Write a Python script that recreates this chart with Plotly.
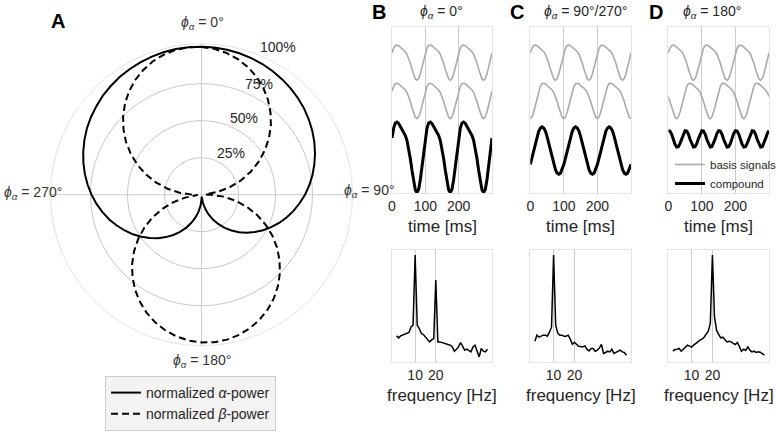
import plotly.graph_objects as go

W, H = 777, 432

# ---------------- Panel A: polar data ----------------
THETA_DEG = [0, 5, 10, 15, 20, 25, 30, 35, 40, 45, 50, 55, 60, 65, 70, 75, 80, 85, 90,
             95, 100, 105, 110, 115, 120, 125, 130, 135, 140, 145, 150, 155, 160, 165, 170, 175, 180,
             185, 190, 195, 200, 205, 210, 215, 220, 225, 230, 235, 240, 245, 250, 255, 260, 265, 270,
             275, 280, 285, 290, 295, 300, 305, 310, 315, 320, 325, 330, 335, 340, 345, 350, 355, 360]
ALPHA_POWER = [1.000, 0.998, 0.994, 0.989, 0.982, 0.974, 0.963, 0.951, 0.937, 0.922, 0.905, 0.885,
               0.864, 0.841, 0.816, 0.789, 0.761, 0.731, 0.699, 0.665, 0.631, 0.595, 0.558, 0.519,
               0.480, 0.440, 0.399, 0.358, 0.316, 0.273, 0.230, 0.187, 0.144, 0.100, 0.057, 0.013,
               0.031, 0.074, 0.118, 0.161, 0.204, 0.247, 0.290, 0.332, 0.374, 0.415, 0.456, 0.496,
               0.535, 0.572, 0.609, 0.645, 0.679, 0.712, 0.743, 0.772, 0.800, 0.826, 0.850, 0.873,
               0.894, 0.912, 0.928, 0.944, 0.956, 0.968, 0.977, 0.985, 0.991, 0.996, 0.999, 1.000, 1.000]
BETA_POWER = [0.998, 0.989, 0.972, 0.948, 0.917, 0.879, 0.834, 0.783, 0.725, 0.663, 0.595, 0.522,
              0.446, 0.367, 0.284, 0.199, 0.113, 0.026, 0.061, 0.148, 0.233, 0.317, 0.399, 0.477,
              0.552, 0.623, 0.688, 0.749, 0.804, 0.853, 0.895, 0.930, 0.959, 0.980, 0.994, 1.000,
              0.998, 0.989, 0.972, 0.948, 0.917, 0.879, 0.834, 0.783, 0.725, 0.663, 0.595, 0.522,
              0.446, 0.367, 0.284, 0.199, 0.113, 0.026, 0.061, 0.148, 0.233, 0.317, 0.399, 0.477,
              0.552, 0.623, 0.688, 0.749, 0.804, 0.853, 0.895, 0.930, 0.959, 0.980, 0.994, 1.000, 0.998]
RADIAL_LABELS = ["25%", "50%", "75%", "100%"]

# ---------------- Panels B-D: time signals ----------------
TIME_MS = [0, 5, 10, 15, 20, 25, 30, 35, 40, 45, 50, 55, 60, 65, 70, 75, 80, 85, 90, 95,
           100, 105, 110, 115, 120, 125, 130, 135, 140, 145, 150, 155, 160, 165, 170, 175, 180, 185, 190, 195,
           200, 205, 210, 215, 220, 225, 230, 235, 240, 245, 250, 255, 260, 265, 270, 275, 280, 285, 290, 295, 300]
BASIS_1 = [0.40, 0.69, 0.84, 0.87, 0.83, 0.74, 0.66, 0.57, 0.47, 0.32, 0.09, -0.22, -0.57, -0.91, -1.15, -1.23, -1.13, -0.84, -0.44, 0.01,
           0.40, 0.69, 0.84, 0.87, 0.83, 0.74, 0.66, 0.57, 0.47, 0.32, 0.09, -0.22, -0.57, -0.91, -1.15, -1.23, -1.13, -0.84, -0.44, 0.01,
           0.40, 0.69, 0.84, 0.87, 0.83, 0.74, 0.66, 0.57, 0.47, 0.32, 0.09, -0.22, -0.57, -0.91, -1.15, -1.23, -1.13, -0.84, -0.44, 0.01,
           0.40]
BASIS_2_B = BASIS_1
COMPOUND_B = [0.80, 1.38, 1.68, 1.74, 1.66, 1.48, 1.32, 1.14, 0.94, 0.64, 0.18, -0.44, -1.14, -1.82, -2.30, -2.46, -2.26, -1.68, -0.88, 0.02,
              0.80, 1.38, 1.68, 1.74, 1.66, 1.48, 1.32, 1.14, 0.94, 0.64, 0.18, -0.44, -1.14, -1.82, -2.30, -2.46, -2.26, -1.68, -0.88, 0.02,
              0.80, 1.38, 1.68, 1.74, 1.66, 1.48, 1.32, 1.14, 0.94, 0.64, 0.18, -0.44, -1.14, -1.82, -2.30, -2.46, -2.26, -1.68, -0.88, 0.02,
              0.80]
BASIS_2_C = [-1.23, -1.13, -0.84, -0.44, 0.01, 0.40, 0.69, 0.84, 0.87, 0.83, 0.74, 0.66, 0.57, 0.47, 0.32, 0.09, -0.22, -0.57, -0.91, -1.15,
             -1.23, -1.13, -0.84, -0.44, 0.01, 0.40, 0.69, 0.84, 0.87, 0.83, 0.74, 0.66, 0.57, 0.47, 0.32, 0.09, -0.22, -0.57, -0.91, -1.15,
             -1.23, -1.13, -0.84, -0.44, 0.01, 0.40, 0.69, 0.84, 0.87, 0.83, 0.74, 0.66, 0.57, 0.47, 0.32, 0.09, -0.22, -0.57, -0.91, -1.15,
             -1.23]
COMPOUND_C = [-0.83, -0.44, 0.00, 0.43, 0.83, 1.14, 1.34, 1.41, 1.34, 1.15, 0.83, 0.44, 0.00, -0.44, -0.83, -1.14, -1.35, -1.41, -1.35, -1.14,
              -0.83, -0.44, 0.00, 0.43, 0.83, 1.14, 1.34, 1.41, 1.34, 1.15, 0.83, 0.44, 0.00, -0.44, -0.83, -1.14, -1.35, -1.41, -1.35, -1.14,
              -0.83, -0.44, 0.00, 0.43, 0.83, 1.14, 1.34, 1.41, 1.34, 1.15, 0.83, 0.44, 0.00, -0.44, -0.83, -1.14, -1.35, -1.41, -1.35, -1.14,
              -0.83]
BASIS_2_D = [0.09, -0.22, -0.57, -0.91, -1.15, -1.23, -1.13, -0.84, -0.44, 0.01, 0.40, 0.69, 0.84, 0.87, 0.83, 0.74, 0.66, 0.57, 0.47, 0.32,
             0.09, -0.22, -0.57, -0.91, -1.15, -1.23, -1.13, -0.84, -0.44, 0.01, 0.40, 0.69, 0.84, 0.87, 0.83, 0.74, 0.66, 0.57, 0.47, 0.32,
             0.09, -0.22, -0.57, -0.91, -1.15, -1.23, -1.13, -0.84, -0.44, 0.01, 0.40, 0.69, 0.84, 0.87, 0.83, 0.74, 0.66, 0.57, 0.47, 0.32,
             0.09]
COMPOUND_D = [0.49, 0.47, 0.27, -0.04, -0.32, -0.49, -0.47, -0.27, 0.03, 0.33,
              0.49, 0.47, 0.27, -0.04, -0.32, -0.49, -0.47, -0.27, 0.03, 0.33,
              0.49, 0.47, 0.27, -0.04, -0.32, -0.49, -0.47, -0.27, 0.03, 0.33,
              0.49, 0.47, 0.27, -0.04, -0.32, -0.49, -0.47, -0.27, 0.03, 0.33,
              0.49, 0.47, 0.27, -0.04, -0.32, -0.49, -0.47, -0.27, 0.03, 0.33,
              0.49, 0.47, 0.27, -0.04, -0.32, -0.49, -0.47, -0.27, 0.03, 0.33,
              0.49]
TIME_TICKS = [0, 100, 200]

# ---------------- Panels B-D: spectra ----------------
FREQ_HZ = [1, 2, 3, 4, 5, 6, 7, 8, 9, 10, 11, 12, 13, 14, 15, 16, 17, 18, 19, 20, 21, 22, 23,
           24, 25, 26, 27, 28, 29, 30, 31, 32, 33, 34, 35, 36, 37, 38, 39, 40, 41, 42, 43, 44, 45]
SPEC_B = [21.3, 19.3, 21.3, 22.0, 22.7, 23.3, 24.7, 30.3, 32.0, 102.0, 32.0, 28.7, 23.7, 22.7, 20.0,
          17.7, 15.3, 17.3, 18.7, 77.0, 15.3, 15.3, 14.7, 14.3, 13.7, 12.7, 12.0, 10.3, 6.0, 8.0,
          10.3, 14.7, 10.3, 7.0, 8.0, 7.0, 5.3, 10.3, 12.0, 6.0, 0.3, 8.7, 6.0, 5.3, 8.0]
SPEC_C = [16.0, 22.0, 20.0, 21.0, 22.0, 22.0, 21.0, 25.0, 30.0, 102.0, 32.0, 24.0, 22.0, 22.0, 21.0,
          21.0, 22.0, 18.0, 13.0, 15.0, 12.7, 11.0, 10.7, 10.3, 11.3, 8.0, 6.3, 8.7, 8.7, 6.0,
          7.0, 9.3, 12.7, 3.7, 4.7, 6.0, 5.3, 8.0, 3.7, 4.7, 6.0, 7.0, 5.3, 4.7, 2.0]
SPEC_D = [6.0, 7.7, 8.0, 8.7, 6.0, 8.0, 10.3, 12.0, 11.0, 10.0, 12.0, 13.3, 15.3, 17.0, 18.0,
          20.0, 22.7, 26.0, 33.7, 102.0, 40.3, 27.0, 22.7, 19.3, 20.0, 17.0, 15.3, 16.0, 15.3, 13.7,
          12.7, 14.7, 10.3, 6.0, 8.0, 6.7, 10.3, 7.0, 5.3, 6.0, 4.7, 5.3, 5.0, 3.7, 2.0]
FREQ_TICKS = [10, 20]

# ---------------- styling / layout constants ----------------
FONT = "Liberation Sans, Arial, Helvetica, sans-serif"
TXT = "#262626"
GRAY = "#aaaaaa"
OFFSET_BASIS_1 = 7.96
OFFSET_BASIS_2 = 5.68
OFFSET_COMPOUND = {"B": 2.50, "C": 2.55, "D": 3.24}
TIME_YRANGE = [0, 9.92]
SPEC_YRANGE = [-5.1, 107.1]
FREQ_RANGE = [-1.2, 47.2]


def px_x(p):
    return p / W


def px_y(p):
    return 1 - p / H


fig = go.Figure()

# Panel A traces
fig.add_trace(go.Scatterpolar(theta=THETA_DEG, r=ALPHA_POWER, mode="lines",
                              line=dict(color="black", width=2),
                              name="normalized <i>α</i>-power", legend="legend"))
fig.add_trace(go.Scatterpolar(theta=THETA_DEG, r=BETA_POWER, mode="lines",
                              line=dict(color="black", width=2, dash="7px,4px"),
                              name="normalized <i>β</i>-power", legend="legend"))

panels = [
    ("B", "x", "y", "x4", "y4", BASIS_1, BASIS_2_B, COMPOUND_B, SPEC_B),
    ("C", "x2", "y2", "x5", "y5", BASIS_1, BASIS_2_C, COMPOUND_C, SPEC_C),
    ("D", "x3", "y3", "x6", "y6", BASIS_1, BASIS_2_D, COMPOUND_D, SPEC_D),
]
for key, xa, ya, xs, ys, b1, b2, comp, spec in panels:
    fig.add_trace(go.Scatter(x=TIME_MS, y=[v + OFFSET_BASIS_1 for v in b1], mode="lines",
                             line=dict(color=GRAY, width=1.6), xaxis=xa, yaxis=ya,
                             name="basis signals", legend="legend2", showlegend=(key == "B")))
    fig.add_trace(go.Scatter(x=TIME_MS, y=[v + OFFSET_BASIS_2 for v in b2], mode="lines",
                             line=dict(color=GRAY, width=1.6), xaxis=xa, yaxis=ya,
                             showlegend=False))
    fig.add_trace(go.Scatter(x=TIME_MS, y=[v + OFFSET_COMPOUND[key] for v in comp], mode="lines",
                             line=dict(color="black", width=3), xaxis=xa, yaxis=ya,
                             name="compound", legend="legend2", showlegend=(key == "B")))
    fig.add_trace(go.Scatter(x=FREQ_HZ, y=spec, mode="lines",
                             line=dict(color="black", width=1.5), xaxis=xs, yaxis=ys,
                             showlegend=False))

# axes domains (pixels)
cols = {"B": (392, 492), "C": (530.3, 631), "D": (668.3, 769)}
time_y = (26.7, 193.3)
spec_y = (250, 362.3)

common_x = dict(showline=True, mirror=True, linecolor="#e4e4e4", linewidth=1, ticks="", ticklen=0,
                zeroline=False, showgrid=True, gridcolor="#cccccc", gridwidth=1,
                tickfont=dict(size=14, color=TXT, family=FONT), fixedrange=True)
common_y = dict(showline=True, mirror=True, linecolor="#e4e4e4", linewidth=1, ticks="",
                zeroline=False, showgrid=False, showticklabels=False, fixedrange=True)

layout_axes = {}
for i, key in enumerate(["B", "C", "D"]):
    x0, x1 = cols[key]
    tn = "" if i == 0 else str(i + 1)
    sn = str(i + 4)
    layout_axes["xaxis" + tn] = dict(common_x, domain=[px_x(x0), px_x(x1)], range=[0, 300],
                                     tickvals=TIME_TICKS, anchor="y" + tn)
    layout_axes["yaxis" + tn] = dict(common_y, domain=[px_y(time_y[1]), px_y(time_y[0])],
                                     range=TIME_YRANGE, anchor="x" + tn)
    layout_axes["xaxis" + sn] = dict(common_x, domain=[px_x(x0), px_x(x1)], range=FREQ_RANGE,
                                     tickvals=FREQ_TICKS, anchor="y" + sn)
    layout_axes["yaxis" + sn] = dict(common_y, domain=[px_y(spec_y[1]), px_y(spec_y[0])],
                                     range=SPEC_YRANGE, anchor="x" + sn)

cx, cy, rad = 201.5, 194.7, 151
fig.update_layout(
    width=W, height=H, autosize=False, margin=dict(l=0, r=0, t=0, b=0, autoexpand=False),
    paper_bgcolor="white", plot_bgcolor="white",
    font=dict(family=FONT, color=TXT, size=14),
    polar=dict(
        domain=dict(x=[px_x(cx - rad), px_x(cx + rad)], y=[px_y(cy + rad), px_y(cy - rad)]),
        bgcolor="white",
        radialaxis=dict(range=[0, 1.02], tickvals=[0.25, 0.5, 0.75], showticklabels=False,
                        ticks="", showline=False, gridcolor="#c8c8c8", gridwidth=1),
        angularaxis=dict(rotation=90, direction="clockwise", tickvals=[0, 90, 180, 270],
                         showticklabels=False, ticks="", gridcolor="#cccccc",
                         showline=True, linecolor="#e4e4e4", linewidth=1),
    ),
    legend=dict(x=px_x(105), y=px_y(431), xanchor="left", yanchor="bottom",
                bgcolor="#f3f3f3", bordercolor="#cccccc", borderwidth=1,
                font=dict(size=14, color=TXT, family=FONT), tracegroupgap=0),
    legend2=dict(x=px_x(670), y=px_y(150), xanchor="left", yanchor="top",
                 bgcolor="rgba(0,0,0,0)", font=dict(size=11.5, color=TXT, family=FONT),
                 itemwidth=30, tracegroupgap=0),
    showlegend=True,
    **layout_axes,
)

PHI = "<i>ϕ</i><sub><i>α</i></sub>"
annotations = []


def add_text(x, y, text, size=14, bold=False, color=TXT):
    annotations.append(dict(x=px_x(x), y=px_y(y), xref="paper", yref="paper",
                            text=("<b>%s</b>" % text) if bold else text, showarrow=False,
                            xanchor="center", yanchor="middle",
                            font=dict(size=size, color=color, family=FONT)))


# panel letters
add_text(58, 21.5, "A", size=20, bold=True, color="black")
add_text(379, 12, "B", size=20, bold=True, color="black")
add_text(517, 12, "C", size=20, bold=True, color="black")
add_text(656, 12, "D", size=20, bold=True, color="black")
# panel titles
add_text(441, 12, PHI + " = 0°")
add_text(585, 12, PHI + " = 90°/270°")
add_text(712, 12, PHI + " = 180°")
# polar angle labels
add_text(202, 23.5, PHI + " = 0°", color="#333333")
add_text(369.5, 191.5, PHI + " = 90°", color="#333333")
add_text(201.7, 361, PHI + " = 180°", color="#333333")
add_text(33.3, 192.5, PHI + " = 270°", color="#333333")
# radial labels
for (lx, ly), lab in zip([(231, 153), (244, 118), (259, 84), (278, 47)], RADIAL_LABELS):
    add_text(lx, ly, lab)
# axis titles
for key in ["B", "C", "D"]:
    x0, x1 = cols[key]
    add_text((x0 + x1) / 2, 227, "time [ms]", size=17)
    add_text((x0 + x1) / 2, 395, "frequency [Hz]", size=17)

fig.update_layout(annotations=annotations)

fig.write_html(
    "out.html",
    config={"displayModeBar": False},
    post_script=("document.documentElement.style.overflow='hidden';"
                 "document.body.style.overflow='hidden';"
                 "document.body.style.margin='0';"),
)
